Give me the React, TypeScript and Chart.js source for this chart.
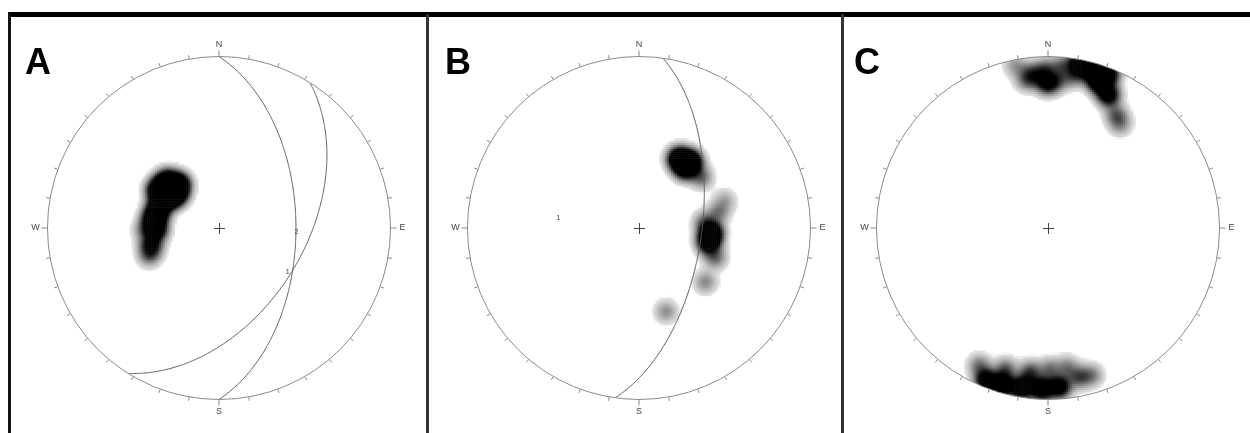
import React, { useEffect, useRef } from "react";
import { Chart, registerables } from "chart.js";

Chart.register(...registerables);

// ---------- data ----------
// Panel letters and cardinal labels
const panelLetters = ["A", "B", "C"];
const cardinalLabels = ["N", "E", "S", "W"];

// Pole concentrations: [east, north, weight] in projection units (net radius = 1)
const polesA: number[][] = [
  [-0.354, 0.223, 4], [-0.303, 0.274, 4], [-0.234, 0.257, 4], [-0.291, 0.183, 4],
  [-0.246, 0.2, 3.5], [-0.349, 0.12, 4], [-0.377, 0.057, 4], [-0.366, -0.011, 3],
  [-0.394, -0.103, 2.2], [-0.406, -0.16, 1], [-0.434, -0.011, 0.8],
];
const polesB: number[][] = [
  [0.234, 0.406, 4], [0.303, 0.389, 4], [0.269, 0.349, 3], [0.366, 0.297, 1.1],
  [0.503, 0.16, 0.6], [0.463, 0.091, 0.9],
  [0.423, -0.029, 4], [0.406, -0.086, 3], [0.446, -0.171, 1.1], [0.383, 0.034, 1],
  [0.389, -0.314, 0.85], [0.16, -0.486, 0.8],
];
const polesC: number[][] = [
  // northern concentration
  [0.0, 0.846, 2.6], [-0.017, 0.926, 1.2], [-0.08, 0.88, 0.8], [-0.13, 0.86, 0.7],
  [-0.103, 0.903, 0.9], [-0.189, 0.949, 0.7], [0.07, 0.86, 0.8], [0.08, 0.949, 1.0],
  [0.154, 0.891, 1.2], [0.24, 0.931, 3], [0.297, 0.857, 4], [0.354, 0.903, 3],
  [0.354, 0.777, 3], [0.4, 0.663, 1.1], [0.423, 0.606, 0.8], [0.183, 0.971, 3],
  // southern concentration
  [-0.36, -0.886, 3], [-0.263, -0.914, 3.5], [-0.149, -0.931, 3.5], [-0.034, -0.937, 3.5],
  [0.069, -0.926, 3], [-0.103, -0.84, 1.5], [-0.246, -0.823, 1.2], [-0.4, -0.8, 1],
  [0.183, -0.869, 1.3], [0.257, -0.857, 0.9], [0.114, -0.811, 0.9], [0.011, -0.823, 1],
];

// Planes (great circles): [dip direction, dip] in degrees
const planesA: number[][] = [[90, 53], [122, 49]];
const planesB: number[][] = [[98, 60]];
const planesC: number[][] = [];

// Small annotations: [east, north, text]
const marksA: [number, number, string][] = [[0.451, -0.023, "2"], [0.4, -0.257, "1"]];
const marksB: [number, number, string][] = [[-0.47, 0.057, "1"]];
const marksC: [number, number, string][] = [];

// ---------- layout ----------
const NET_R = 175; // px
const CANVAS = 400; // px
const CENTERS_X = [219, 639, 1048];
const CENTER_Y = 228;
const HALF = CANVAS / 2 / NET_R;

const grayStops = [
  [0.1, 255], [0.16, 222], [0.35, 198], [0.65, 160], [1.0, 118], [1.6, 50], [2.2, 0],
];
function grayFor(d: number) {
  if (d <= grayStops[0][0]) return 255;
  for (let i = 1; i < grayStops.length; i++) {
    if (d <= grayStops[i][0]) {
      const [d0, g0] = grayStops[i - 1];
      const [d1, g1] = grayStops[i];
      return Math.round(g0 + ((d - d0) / (d1 - d0)) * (g1 - g0));
    }
  }
  return 0;
}

function densityCells(poles: number[][]) {
  const step = 2 / NET_R;
  const sigma = 7.5 / NET_R;
  const s2 = 2 * sigma * sigma;
  const pts: { x: number; y: number }[] = [];
  const cols: string[] = [];
  const n = Math.floor(NET_R / 2) + 1;
  for (let j = -n; j <= n; j++) {
    for (let i = -n; i <= n; i++) {
      const gx = i * step;
      const gy = j * step;
      if (gx * gx + gy * gy > 1.03) continue;
      let d = 0;
      for (const [px, py, w] of poles) {
        const dx = gx - px;
        const dy = gy - py;
        d += w * Math.exp(-(dx * dx + dy * dy) / s2);
      }
      if (d < 0.1) continue;
      const g = grayFor(d);
      pts.push({ x: gx, y: gy });
      cols.push(`rgb(${g},${g},${g})`);
    }
  }
  return { pts, cols };
}

function greatCircle(dd: number, dip: number) {
  const rad = Math.PI / 180;
  const s = (dd - 90) * rad;
  const S = [Math.sin(s), Math.cos(s), 0];
  const D = [Math.cos(dip * rad) * Math.sin(dd * rad), Math.cos(dip * rad) * Math.cos(dd * rad), Math.sin(dip * rad)];
  const out: { x: number; y: number }[] = [];
  for (let t = 0; t <= 180; t += 2) {
    const c = Math.cos(t * rad);
    const sn = Math.sin(t * rad);
    const v = [c * S[0] + sn * D[0], c * S[1] + sn * D[1], c * S[2] + sn * D[2]];
    const k = 1 / Math.sqrt(1 + Math.abs(v[2]));
    out.push({ x: v[0] * k, y: v[1] * k });
  }
  return out;
}

const netPlugin = {
  id: "net",
  beforeDatasetsDraw(chart: any) {
    const ctx = chart.ctx;
    const xs = chart.scales.x;
    const ys = chart.scales.y;
    const cx = xs.getPixelForValue(0);
    const cy = ys.getPixelForValue(0);
    const r = xs.getPixelForValue(1) - cx;
    ctx.save();
    ctx.beginPath();
    ctx.arc(cx, cy, r, 0, Math.PI * 2);
    ctx.clip();
  },
  afterDatasetsDraw(chart: any) {
    const o = chart.options.plugins.net;
    const ctx = chart.ctx;
    ctx.restore();
    const xs = chart.scales.x;
    const ys = chart.scales.y;
    const cx = xs.getPixelForValue(0);
    const cy = ys.getPixelForValue(0);
    const r = xs.getPixelForValue(1) - cx;
    ctx.save();
    // primitive circle
    ctx.strokeStyle = "#8a8a8a";
    ctx.lineWidth = 1;
    ctx.beginPath();
    ctx.arc(cx, cy, r, 0, Math.PI * 2);
    ctx.stroke();
    // ticks
    for (let a = 0; a < 360; a += 10) {
      const ar = (a * Math.PI) / 180;
      const sx = Math.sin(ar);
      const sy = -Math.cos(ar);
      const len = a % 90 === 0 ? 6 : 4;
      ctx.beginPath();
      ctx.moveTo(cx + sx * r, cy + sy * r);
      ctx.lineTo(cx + sx * (r + len), cy + sy * (r + len));
      ctx.stroke();
    }
    // cardinal labels
    ctx.fillStyle = "#444";
    ctx.font = "9px 'Liberation Sans', Arial, sans-serif";
    ctx.textAlign = "center";
    ctx.textBaseline = "middle";
    cardinalLabels.forEach((lab, i) => {
      const ar = (i * 90 * Math.PI) / 180;
      const rr = r + 12;
      ctx.fillText(lab, cx + Math.sin(ar) * rr, cy - Math.cos(ar) * rr);
    });
    // centre cross
    ctx.strokeStyle = "#444";
    ctx.beginPath();
    ctx.moveTo(cx - 5, cy + 0.5);
    ctx.lineTo(cx + 6, cy + 0.5);
    ctx.moveTo(cx + 0.5, cy - 5);
    ctx.lineTo(cx + 0.5, cy + 6);
    ctx.stroke();
    // small marks
    ctx.fillStyle = "#333";
    ctx.font = "7px 'Liberation Sans', Arial, sans-serif";
    for (const [mx, my, t] of o.marks) {
      ctx.fillText(t, xs.getPixelForValue(mx), ys.getPixelForValue(my));
    }
    // panel letter
    ctx.fillStyle = "#000";
    ctx.font = "bold 36px 'Liberation Sans', Arial, sans-serif";
    ctx.textAlign = "left";
    ctx.textBaseline = "alphabetic";
    ctx.fillText(o.letter, 6, 46);
    ctx.restore();
  },
};

function StereoPanel({ index, poles, planes, marks }: any) {
  const ref = useRef<HTMLCanvasElement | null>(null);
  useEffect(() => {
    if (!ref.current) return;
    const { pts, cols } = densityCells(poles);
    const datasets: any[] = [
      {
        type: "scatter",
        data: pts,
        pointStyle: "rect",
        pointRadius: 1.75,
        pointBorderWidth: 0,
        pointBackgroundColor: cols,
        order: 5,
      },
    ];
    planes.forEach(([dd, dip]: number[]) => {
      datasets.push({
        type: "scatter",
        data: greatCircle(dd, dip),
        showLine: true,
        tension: 0.2,
        pointRadius: 0,
        borderColor: "#5e5e5e",
        borderWidth: 1,
        order: 1,
      });
    });
    const chart = new Chart(ref.current, {
      type: "scatter",
      data: { datasets },
      options: {
        animation: false,
        responsive: false,
        maintainAspectRatio: false,
        events: [],
        layout: { padding: 0 },
        scales: {
          x: { type: "linear", min: -HALF, max: HALF, display: false },
          y: { type: "linear", min: -HALF, max: HALF, display: false },
        },
        plugins: {
          legend: { display: false },
          tooltip: { enabled: false },
          net: { letter: panelLetters[index], marks },
        } as any,
      },
      plugins: [netPlugin],
    });
    return () => chart.destroy();
  }, []);
  return (
    <canvas
      ref={ref}
      width={CANVAS}
      height={CANVAS}
      style={{
        position: "absolute",
        left: CENTERS_X[index] - CANVAS / 2,
        top: CENTER_Y - CANVAS / 2,
        width: CANVAS,
        height: CANVAS,
      }}
    />
  );
}

export default function App() {
  return (
    <div
      style={{
        position: "absolute",
        left: 0,
        top: 0,
        width: 1250,
        height: 433,
        overflow: "hidden",
        background: "#fff",
      }}
    >
      <div style={{ position: "absolute", left: 8, top: 12, width: 1242, height: 5, background: "#000" }} />
      <div style={{ position: "absolute", left: 8, top: 12, width: 3, height: 421, background: "#111" }} />
      <div style={{ position: "absolute", left: 426, top: 14, width: 3, height: 419, background: "#333" }} />
      <div style={{ position: "absolute", left: 841, top: 14, width: 3, height: 419, background: "#333" }} />
      <StereoPanel index={0} poles={polesA} planes={planesA} marks={marksA} />
      <StereoPanel index={1} poles={polesB} planes={planesB} marks={marksB} />
      <StereoPanel index={2} poles={polesC} planes={planesC} marks={marksC} />
    </div>
  );
}
